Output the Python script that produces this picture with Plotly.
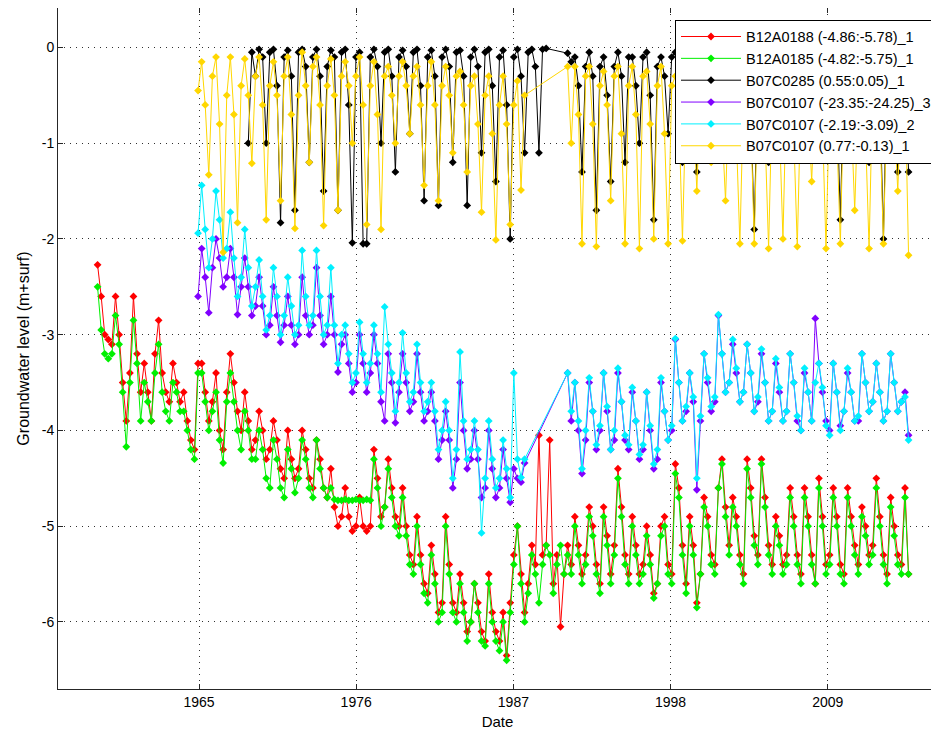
import datetime
import pandas as pd
import plotly.graph_objects as go

# ---------------- data (quarterly readings, m relative to surface) ----------------
names = [
    "B12A0188 (-4.86:-5.78)_1",
    "B12A0185 (-4.82:-5.75)_1",
    "B07C0285 (0.55:0.05)_1",
    "B07C0107 (-23.35:-24.25)_3",
    "B07C0107 (-2.19:-3.09)_2",
    "B07C0107 (0.77:-0.13)_1",
]
colors = ["#ff0000", "#00f000", "#000000", "#8000ff", "#00f0ff", "#ffd700"]
starts = ["1958-10-01", "1958-10-01", "1969-04-01", "1965-10-01", "1965-10-01", "1965-10-01"]

red = [
    -2.27,
    -2.6, -3.0, -3.05, -3.1,
    -2.6, -3.0, -3.5, -3.9,
    -3.4, -2.6, -3.2, -3.6,
    -3.3, -3.6, -3.9, -3.2,
    -2.85, -3.4, -3.6, -3.7,
    -3.3, -3.5, -3.7, -3.6,
    -3.9, -4.1, -4.2, -3.3,
    -3.3, -3.6, -3.9, -3.7,
    -3.4, -4.0, -4.2, -3.6,
    -3.2, -3.5, -3.8, -4.0,
    -3.6, -3.9, -4.2, -4.1,
    -3.8, -4.0, -4.3, -4.2,
    -3.9, -4.1, -4.4, -4.5,
    -4.0, -4.3, -4.5, -4.4,
    -4.0, -4.2, -4.5, -4.6,
    -4.1, -4.3, -4.6, -4.7,
    -4.4, -4.8, -5.0, -4.9,
    -4.6, -4.9, -5.05, -5.0,
    -4.7, -5.0, -5.05, -5.0,
    -4.2, -4.5, -4.9, -4.8,
    -4.3, -4.6, -4.9, -5.0,
    -4.6, -5.0, -5.3, -5.4,
    -4.9, -5.3, -5.6, -5.7,
    -5.2, -5.5, -5.9, -5.8,
    -4.9, -5.4, -5.8, -5.9,
    -5.5, -5.8, -6.1, -6.0,
    -5.6, -5.8, -6.1, -6.2,
    -5.5, -5.9, -6.1, -6.2,
    -5.9, -6.35, -5.8, -5.3,
    -5.0, -5.5, -5.9, -5.6,
    -5.2, -5.4, -4.05, -5.3,
    -5.2, -4.1, -5.6, -5.3,
    -6.05, -5.5, -5.2, -5.4,
    -4.9, -5.2, -5.5, -5.3,
    -4.8, -5.0, -5.4, -5.6,
    -4.8, -5.1, -5.5, -5.2,
    -4.4, -4.8, -5.3, -5.5,
    -4.9, -5.2, -5.5, -5.4,
    -5.0, -5.3, -5.7, -5.6,
    -5.0, -4.9, -5.4, -5.5,
    -4.35, -4.6, -5.2, -5.6,
    -4.9, -5.2, -5.8, -5.5,
    -4.7, -4.9, -5.3, -5.4,
    -4.6, -4.3, -4.8, -5.2,
    -4.7, -4.9, -5.3, -5.5,
    -4.3, -4.6, -5.1, -5.3,
    -4.3, -4.7, -5.2, -5.4,
    -4.9, -5.1, -5.4, -5.3,
    -4.6, -4.9, -5.3, -5.5,
    -4.6, -4.9, -5.3, -5.6,
    -4.5, -4.9, -5.4, -5.3,
    -4.6, -4.9, -5.4, -5.5,
    -4.6, -4.9, -5.2, -5.4,
    -4.8, -5.0, -5.3, -5.2,
    -4.5, -4.9, -5.3, -5.5,
    -4.7, -5.0, -5.3, -5.4,
    -4.6, -5.5,
]

green = [
    -2.5,
    -2.95, -3.2, -3.25, -3.2,
    -2.8, -3.1, -3.6, -4.17,
    -3.5, -2.85, -3.3, -3.9,
    -3.5, -3.7, -3.9, -3.4,
    -3.1, -3.6, -3.8, -3.9,
    -3.5, -3.6, -3.8, -3.8,
    -4.0, -4.2, -4.3, -3.4,
    -3.4, -3.7, -4.0, -3.8,
    -3.6, -4.1, -4.34, -3.7,
    -3.4, -3.7, -4.0, -4.2,
    -3.8, -4.0, -4.3, -4.3,
    -4.0, -4.2, -4.5, -4.6,
    -4.1, -4.3, -4.6, -4.7,
    -4.2, -4.4, -4.65, -4.5,
    -4.1, -4.3, -4.6, -4.7,
    -4.1, -4.4, -4.6, -4.7,
    -4.6, -4.72, -4.73, -4.73,
    -4.72, -4.73, -4.73, -4.72,
    -4.73, -4.73, -4.72, -4.73,
    -4.3, -4.6, -5.0, -4.8,
    -4.4, -4.7, -5.0, -5.1,
    -4.7, -5.1, -5.4, -5.5,
    -5.0, -5.4, -5.7, -5.8,
    -5.3, -5.6, -6.0, -5.9,
    -5.0, -5.5, -5.9, -6.0,
    -5.6, -5.9, -6.2, -6.0,
    -5.6, -5.9, -6.2, -6.25,
    -5.6, -6.0, -6.2, -6.3,
    -6.0, -6.4, -5.9, -5.4,
    -5.0, -5.6, -6.0, -5.7,
    -5.3, -5.5, -5.8, -5.4,
    -5.2, -5.3, -5.7, -5.4,
    -5.2, -5.5, -5.3, -5.5,
    -5.0, -5.3, -5.6, -5.4,
    -4.9, -5.1, -5.5, -5.7,
    -4.9, -5.2, -5.6, -5.3,
    -4.5, -4.9, -5.4, -5.6,
    -5.0, -5.3, -5.6, -5.5,
    -5.1, -5.4, -5.75, -5.6,
    -5.1, -5.0, -5.5, -5.6,
    -4.45, -4.7, -5.3, -5.7,
    -5.0, -5.3, -5.85, -5.5,
    -4.8, -5.0, -5.4, -5.5,
    -4.6, -4.35, -4.9, -5.3,
    -4.8, -5.0, -5.4, -5.6,
    -4.4, -4.7, -5.2, -5.4,
    -4.35, -4.8, -5.3, -5.5,
    -5.0, -5.2, -5.5, -5.4,
    -4.7, -5.0, -5.4, -5.6,
    -4.7, -5.0, -5.4, -5.6,
    -4.6, -5.0, -5.5, -5.4,
    -4.7, -5.0, -5.5, -5.6,
    -4.7, -5.0, -5.3, -5.5,
    -4.9, -5.1, -5.4, -5.3,
    -4.6, -5.0, -5.4, -5.6,
    -4.8, -5.1, -5.4, -5.5,
    -4.7, -5.5,
]

black = [
    -1.0, -0.05, -0.3,
    -0.02, -0.1, -1.0, -0.05,
    -0.02, -0.4, -1.83, -0.1,
    -0.03, -0.3, -1.7, -0.05,
    -0.02, -0.2, -1.2, -0.1,
    -0.02, -0.3, -1.5, -0.2,
    -0.03, -0.1, -1.7, -0.05,
    -0.02, -0.6, -2.04, -0.1,
    -0.05, -2.05, -2.05, -0.1,
    -0.02, -0.2, -1.0, -0.05,
    -0.02, -0.3, -1.3, -0.1,
    -0.03, -0.2, -0.9, -0.05,
    -0.02, -0.4, -1.6, -0.1,
    -0.03, -0.3, -1.65, -0.1,
    -0.02, -0.2, -1.2, -0.05,
    -0.03, -0.3, -1.65, -0.1,
    -0.02, -0.2, -1.1, -0.05,
    -0.02, -0.4, -1.4, -0.1,
    -0.03, -0.6, -2.0, -0.1,
    -0.02, -0.3, -1.1, -0.05,
    -0.02, -0.2, -1.1, -0.02,
    -0.01, None, None, None,
    None, None, -0.06, -0.15,
    -0.1, -0.4, -1.3, -0.2,
    -0.05, -0.3, -1.7, -0.2,
    -0.1, -0.5, -1.4, -0.2,
    -0.05, -0.3, -1.2, -0.1,
    -0.1, -0.4, -1.0, -0.1,
    -0.05, -0.5, -1.8, -0.2,
    -0.1, -0.3, -0.9, -0.1,
    -0.05, -0.4, -1.2, -0.1,
    -0.1, -0.5, -1.3, -0.2,
    -0.1, -0.3, -0.8, -0.1,
    -0.05, -0.4, -0.9, -0.1,
    -0.1, -0.3, -1.0, -0.2,
    -0.05, -0.6, -1.9, -0.2,
    -0.1, -0.4, -1.2, -0.1,
    -0.05, -0.3, -0.9, -0.1,
    -0.1, -0.3, -1.0, -0.2,
    -0.05, -0.4, -1.1, -0.1,
    -0.1, -0.3, -0.8, -0.2,
    -0.05, -0.5, -1.8, -0.2,
    -0.1, -0.3, -1.0, -0.1,
    -0.05, -0.4, -1.2, -0.2,
    -0.1, -0.5, -2.0, -0.2,
    -0.1, -0.4, -1.3, -0.2,
    -0.1, -1.3,
]

purple = [
    -2.6,
    -2.1, -2.4, -2.77, -2.3,
    -2.0, -2.2, -2.5, -2.4,
    -2.1, -2.4, -2.79, -2.5,
    -2.2, -2.5, -2.8, -2.7,
    -2.4, -2.7, -3.0, -2.9,
    -2.5, -2.8, -3.08, -2.9,
    -2.6, -2.9, -3.1, -3.0,
    -2.4, -2.8, -3.0, -2.9,
    -2.3, -2.8, -3.1, -3.0,
    -2.6, -3.0, -3.39, -3.1,
    -3.0, -3.3, -3.6, -3.5,
    -3.0, -3.3, -3.6, -3.4,
    -3.0, -3.3, -3.7, -3.9,
    -3.2, -3.5, -3.92, -3.6,
    -3.2, -3.5, -3.8, -3.7,
    -3.2, -3.6, -3.9, -3.8,
    -3.6, -3.9, -4.3, -4.1,
    -3.8, -4.1, -4.6, -4.3,
    -3.5, -4.0, -4.4, -4.3,
    -4.0, -4.3, -4.7, -4.6,
    -4.0, -4.4, -4.7, -4.6,
    -4.2, -4.5, -4.75, -4.4,
    -4.5, -4.54, -4.34, None,
    None, None, None, None,
    None, None, None, None,
    None, None, -3.4, -3.9,
    -3.5, -4.0, -4.45, -4.1,
    -3.5, -3.8, -4.2, -4.0,
    -3.4, -3.8, -4.2, -4.1,
    -3.4, -3.7, -4.1, -4.2,
    -3.6, -3.9, -4.3, -4.2,
    -3.6, -4.0, -4.4, -4.3,
    -3.5, -3.8, -4.1, -4.0,
    -3.05, -3.5, -3.9, -3.8,
    -3.4, -3.7, -4.62, -3.9,
    -3.2, -3.5, -3.8, -3.7,
    -2.8, -3.2, -3.6, -3.5,
    -3.1, -3.4, -3.7, -3.6,
    -3.1, -3.4, -3.8, -3.7,
    -3.2, -3.5, -3.9, -3.8,
    -3.3, -3.6, -3.9, -3.8,
    -3.2, -3.5, -3.9, -4.0,
    -3.4, -3.6, -3.9, -2.83,
    -3.3, -3.6, -3.9, -4.0,
    -3.3, -3.6, -3.95, -3.8,
    -3.4, -3.6, -3.9, -3.9,
    -3.2, -3.5, -3.8, -3.7,
    -3.3, -3.6, -3.9, -3.8,
    -3.2, -3.5, -3.8, -3.7,
    -3.6, -4.05,
]

cyan = [
    -1.94,
    -1.44, -1.9, -2.3, -2.0,
    -1.5, -1.8, -2.2, -2.1,
    -1.72, -2.2, -2.6, -2.4,
    -1.9, -2.3, -2.7, -2.5,
    -2.22, -2.6, -2.95, -2.8,
    -2.3, -2.6, -3.0, -2.8,
    -2.4, -2.7, -3.0, -2.9,
    -2.12, -2.6, -2.9, -2.8,
    -2.12, -2.6, -3.0, -2.9,
    -2.3, -2.9, -3.3, -3.0,
    -2.9, -3.2, -3.5, -3.4,
    -2.87, -3.2, -3.5, -3.3,
    -2.9, -3.2, -3.6, -2.71,
    -3.1, -3.4, -3.8, -3.5,
    -2.98, -3.4, -3.7, -3.6,
    -3.1, -3.5, -3.8, -3.7,
    -3.5, -3.8, -4.2, -4.0,
    -3.7, -4.0, -4.5, -4.2,
    -3.18, -3.9, -4.3, -4.2,
    -3.9, -4.2, -5.07, -4.5,
    -3.9, -4.3, -4.6, -4.5,
    -4.1, -4.4, -4.7, -3.4,
    -4.3, -4.49, -4.3, None,
    None, None, None, None,
    None, None, None, None,
    None, None, -3.4, -3.8,
    -3.5, -3.9, -4.4, -4.0,
    -3.45, -3.8, -4.15, -3.95,
    -3.4, -3.75, -4.2, -4.0,
    -3.35, -3.7, -4.05, -4.15,
    -3.55, -3.9, -4.25, -4.15,
    -3.6, -3.95, -4.35, -4.2,
    -3.45, -3.8, -4.1, -3.95,
    -3.04, -3.5, -3.9, -3.75,
    -3.4, -3.65, -4.5, -3.85,
    -3.2, -3.45, -3.75, -3.65,
    -2.79, -3.2, -3.6, -3.5,
    -3.05, -3.35, -3.7, -3.6,
    -3.1, -3.4, -3.8, -3.65,
    -3.15, -3.5, -3.9, -3.8,
    -3.25, -3.55, -3.9, -3.8,
    -3.2, -3.5, -3.85, -4.0,
    -3.35, -3.6, -3.9, -3.5,
    -3.3, -3.55, -3.95, -4.05,
    -3.3, -3.6, -4.0, -3.8,
    -3.35, -3.6, -3.9, -3.85,
    -3.2, -3.5, -3.8, -3.7,
    -3.3, -3.6, -3.9, -3.8,
    -3.2, -3.5, -3.8, -3.7,
    -3.65, -4.1,
]

yellow = [
    -0.45,
    -0.15, -0.6, -1.33, -0.3,
    -0.1, -0.8, -2.14, -0.5,
    -0.1, -0.7, -1.83, -0.4,
    -0.12, -0.5, -1.21, -0.3,
    -0.1, -0.6, -1.8, -0.4,
    -0.15, -0.5, -1.6, -0.3,
    -0.1, -0.7, -1.89, -0.5,
    -0.05, -0.4, -1.2, -0.2,
    -0.1, -0.6, -1.86, -0.4,
    -0.12, -0.5, -1.7, -0.3,
    -0.15, -0.4, -1.0, -0.3,
    -0.1, -0.6, -1.85, -0.4,
    -0.15, -0.7, -1.9, -0.3,
    -0.2, -0.5, -1.0, -0.3,
    -0.15, -0.4, -0.9, -0.3,
    -0.2, -0.6, -1.44, -0.4,
    -0.15, -0.6, -1.6, -0.4,
    -0.2, -0.5, -1.1, -0.3,
    -0.25, -0.6, -1.3, -0.4,
    -0.3, -0.8, -1.72, -0.5,
    -0.3, -0.9, -2.01, -0.6,
    -0.3, -0.8, -1.85, -0.6,
    -0.35, -1.49, -0.5, None,
    None, None, None, None,
    None, None, None, None,
    None, None, -0.2, -1.0,
    -0.2, -0.7, -2.05, -0.3,
    -0.2, -0.8, -2.08, -0.4,
    -0.25, -0.6, -1.6, -0.3,
    -0.2, -0.9, -2.05, -0.4,
    -0.2, -0.7, -2.1, -0.3,
    -0.25, -0.8, -2.0, -0.4,
    -0.2, -0.9, -2.05, -0.4,
    -0.3, -0.7, -2.02, -0.5,
    -0.3, -0.6, -1.5, -0.4,
    -0.3, -0.5, -1.2, -0.4,
    -0.25, -0.8, -1.6, -0.4,
    -0.3, -0.9, -2.05, -0.5,
    -0.3, -0.7, -2.05, -0.4,
    -0.3, -0.9, -2.1, -0.5,
    -0.3, -0.8, -2.0, -0.4,
    -0.35, -0.9, -2.08, -0.5,
    -0.3, -0.6, -1.4, -0.4,
    -0.35, -0.8, -2.1, -0.5,
    -0.3, -0.9, -2.05, -0.4,
    -0.35, -0.7, -1.7, -0.5,
    -0.3, -0.9, -2.1, -0.4,
    -0.35, -0.8, -2.05, -0.5,
    -0.3, -0.7, -1.5, -0.4,
    -0.4, -2.17,
]

series = [red, green, black, purple, cyan, yellow]

# x-axis ticks (MATLAB datenum 718000, 722000, ... labelled 'yyyy')
tick_datenums = [718000, 722000, 726000, 730000, 734000]
x_limits_datenum = [714412, 736779]
y_ticks = [0, -1, -2, -3, -4, -5, -6]


def dn2date(dn):
    return datetime.date.fromordinal(int(dn) - 366)


tick_dates = [dn2date(d) for d in tick_datenums]
tick_text = [str(d.year) for d in tick_dates]

FONT = "Liberation Sans, Arial, sans-serif"

fig = go.Figure()
for i, (name, col, start, vals) in enumerate(zip(names, colors, starts, series)):
    dates = pd.date_range(start=start, periods=len(vals), freq="QS")
    fig.add_trace(go.Scatter(
        x=dates, y=vals, name=name, mode="lines+markers",
        connectgaps=True, legendgroup="g%d" % i,
        line=dict(color=col, width=1),
        marker=dict(color=col, symbol="diamond", size=6),
    ))

axis_common = dict(
    showline=True, linecolor="#262626", linewidth=1, mirror="ticks",
    ticks="inside", ticklen=5, tickcolor="#262626",
    showgrid=True, gridcolor="#303030", griddash="1px,5px", gridwidth=1,
    zeroline=False, automargin=False,
    tickfont=dict(family=FONT, size=14, color="#000"),
)

# the page adds an 8px body margin, so the figure is sized to fit the window
fig.update_layout(
    width=931, height=730,
    margin=dict(l=50, r=2, t=0, b=49),
    paper_bgcolor="white", plot_bgcolor="white",
    showlegend=True,
    legend=dict(
        x=1, y=0.983, xanchor="right", yanchor="top",
        bgcolor="white", bordercolor="#000", borderwidth=1,
        font=dict(family=FONT, size=14.5, color="#000"),
        tracegroupgap=0, itemwidth=60,
    ),
    xaxis=dict(
        type="date",
        range=[dn2date(x_limits_datenum[0]), dn2date(x_limits_datenum[1])],
        tickvals=tick_dates, ticktext=tick_text,
        title=dict(text="Date", font=dict(family=FONT, size=15, color="#000"), standoff=7),
        **axis_common,
    ),
    yaxis=dict(
        range=[-6.70, 0.412],
        tickvals=y_ticks, ticktext=[str(v) for v in y_ticks],
        title=dict(text="Groundwater level (m+surf)", font=dict(family=FONT, size=16, color="#000"), standoff=8),
        **axis_common,
    ),
)

fig.write_html("out.html")
